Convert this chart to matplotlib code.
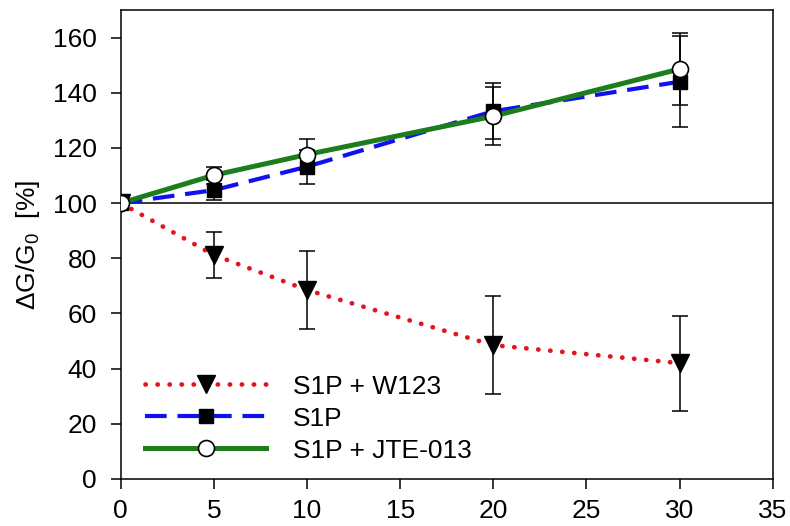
import matplotlib
matplotlib.use("Agg")
import matplotlib.pyplot as plt
from matplotlib.lines import Line2D

plt.rcParams['font.family'] = ['Liberation Sans', 'DejaVu Sans']
plt.rcParams['mathtext.fontset'] = 'custom'
plt.rcParams['mathtext.rm'] = 'Liberation Sans'
plt.rcParams['mathtext.it'] = 'Liberation Sans:italic'
plt.rcParams['mathtext.default'] = 'regular'

# Data
time = [0, 5, 10, 20, 30]
w123 = [100, 81.2, 68.5, 48.5, 42.0]
w123_err = [0, 8.2, 14.0, 17.8, 17.2]
s1p = [100, 104.7, 113.2, 133.3, 144.0]
s1p_err = [0, 3.6, 6.1, 10.1, 16.5]
jte = [100, 110.1, 117.6, 131.5, 148.6]
jte_err = [0, 3.1, 5.6, 10.5, 13.2]

labels = ["S1P + W123", "S1P", "S1P + JTE-013"]
xticks = [0, 5, 10, 15, 20, 25, 30, 35]
yticks = [0, 20, 40, 60, 80, 100, 120, 140, 160]

red = '#e3141b'
blue = '#1010f0'
green = '#1b7d1b'

fig = plt.figure(figsize=(7.9, 5.26), dpi=100)
ax = fig.add_axes([0.1528, 0.0894, 0.8253, 0.8916])

ax.axhline(100, color='black', lw=1.1, zorder=1.5)

red_ls = (0, (0.05, 2.5))
blue_ls = (0, (5.2, 2.6))

# lines
ax.plot(time, w123, color=red, lw=3.4, linestyle=red_ls, dash_capstyle='round', zorder=2)
ax.plot(time, s1p, color=blue, lw=3.0, linestyle=blue_ls, zorder=2)
ax.plot(time, jte, color=green, lw=3.6, zorder=2.1)

# error bars
for y, e in [(w123, w123_err), (s1p, s1p_err), (jte, jte_err)]:
    ax.errorbar(time[1:], y[1:], yerr=e[1:], fmt='none', ecolor='black',
                elinewidth=1.1, capsize=6, capthick=1.1, zorder=3)

# markers
ax.plot(time, w123, linestyle='none', marker='v', ms=13, color='black', zorder=4)
ax.plot(time, s1p, linestyle='none', marker='s', ms=10, color='black', zorder=4.1)
ax.plot(time, jte, linestyle='none', marker='o', ms=11.5, mfc='white', mec='black',
        mew=1.2, zorder=4.2)

ax.set_xlim(0, 35)
ax.set_ylim(0, 170)
ax.set_xticks(xticks)
ax.set_yticks(yticks)
ax.tick_params(axis='both', direction='out', length=7, width=1.1, labelsize=19)
ax.tick_params(axis='x', pad=7.5)
ax.tick_params(axis='y', pad=10)
for s in ax.spines.values():
    s.set_linewidth(1.1)

ax.set_ylabel('ΔG/G$_0$  [%]', fontsize=19, labelpad=8)

handles = [
    Line2D([], [], color=red, lw=3.4, linestyle=red_ls, dash_capstyle='round',
           marker='v', ms=13, mfc='black', mec='black'),
    Line2D([], [], color=blue, lw=3.0, linestyle=blue_ls,
           marker='s', ms=10, mfc='black', mec='black'),
    Line2D([], [], color=green, lw=3.6, marker='o', ms=11.5, mfc='white',
           mec='black', mew=1.2),
]
ax.legend(handles, labels, loc='lower left', bbox_to_anchor=(0.037, 0.035),
          frameon=False, fontsize=19, handlelength=4.6, handletextpad=1.0,
          labelspacing=0.3, borderpad=0, borderaxespad=0, numpoints=1)

fig.savefig('out.png', dpi=100)
